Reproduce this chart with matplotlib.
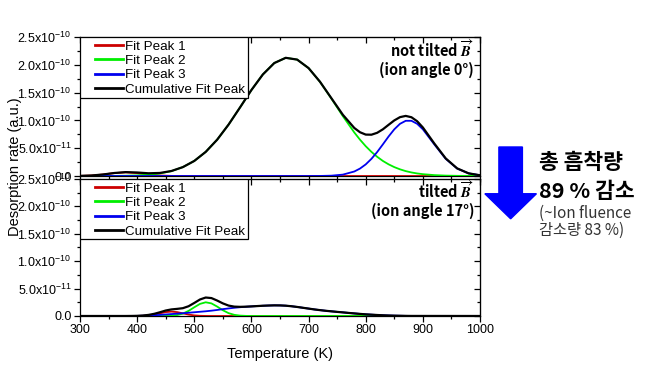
import numpy as np
import matplotlib.pyplot as plt
from matplotlib.ticker import MultipleLocator
from matplotlib.patches import FancyArrow, Rectangle

plt.rcParams['font.family'] = ['Liberation Sans', 'DejaVu Sans']
plt.rcParams['mathtext.fontset'] = 'stix'

# desorption rates in units of 1e-10 (a.u.)
# not tilted B (ion angle 0 deg)
temp_top = [300, 320, 340, 360, 380, 400, 420, 440, 460, 480, 500, 520, 540, 560,
            580, 600, 620, 640, 660, 680, 700, 720, 740, 760, 780,
            790, 800, 810, 820, 830, 840, 850, 860, 870, 880, 890, 900,
            920, 940, 960, 980, 1000]
peak1_top = [0.002, 0.009, 0.027, 0.052, 0.065, 0.052, 0.027, 0.009, 0.002] + [0.0] * 33
peak2_top = [0.0, 0.0, 0.001, 0.002, 0.005, 0.011, 0.023, 0.046, 0.088, 0.160, 0.271, 0.434,
             0.653, 0.925, 1.233, 1.547, 1.827, 2.032, 2.126, 2.094, 1.941, 1.694, 1.392,
             1.076, 0.783,
             0.653, 0.536, 0.434, 0.346, 0.271, 0.210, 0.160, 0.120, 0.088, 0.064, 0.046, 0.033,
             0.016, 0.007, 0.003, 0.001, 0.0]
peak3_top = [0.0] * 21 + [0.001, 0.006, 0.025, 0.081,
             0.134, 0.209, 0.309, 0.431, 0.569, 0.711, 0.840, 0.939, 0.993, 0.993, 0.939, 0.840,
             0.569, 0.309, 0.134, 0.047, 0.013]
cum_top = [0.002, 0.009, 0.027, 0.054, 0.070, 0.063, 0.049, 0.055, 0.090, 0.160, 0.271, 0.434,
           0.653, 0.925, 1.233, 1.547, 1.827, 2.032, 2.126, 2.094, 1.941, 1.695, 1.398,
           1.101, 0.864,
           0.787, 0.745, 0.743, 0.777, 0.840, 0.921, 1.000, 1.059, 1.081, 1.057, 0.985, 0.873,
           0.585, 0.316, 0.137, 0.048, 0.013]

# tilted B (ion angle 17 deg), sampled every 10 K between 380 and 880 K
temp_low = [300] + list(range(380, 890, 10)) + [1000]
peak1_low = [0.0, 0.0, 0.0, 0.001, 0.0035, 0.011, 0.026, 0.0485, 0.071, 0.080, 0.071, 0.0485,
             0.026, 0.011, 0.0035, 0.001] + [0.0] * 37
peak2_low = [0.0] * 8 + [0.001, 0.005, 0.017, 0.044, 0.093, 0.159, 0.221, 0.250, 0.230, 0.172,
                         0.105, 0.052, 0.021, 0.007, 0.002] + [0.0] * 30
peak3_low = [0.0, 0.0, 0.001, 0.002, 0.005, 0.009, 0.014, 0.020, 0.028, 0.035, 0.042, 0.050,
             0.059, 0.068, 0.077, 0.086, 0.097, 0.110, 0.125, 0.138, 0.150, 0.160, 0.168,
             0.175, 0.181, 0.187, 0.191, 0.194, 0.193, 0.188, 0.178, 0.165, 0.150, 0.135,
             0.120, 0.107, 0.095, 0.085, 0.075, 0.066, 0.056, 0.047, 0.038, 0.030, 0.024,
             0.018, 0.013, 0.009, 0.006, 0.004, 0.002, 0.001, 0.0]
cum_low = [0.0, 0.0, 0.001, 0.003, 0.0085, 0.020, 0.040, 0.0685, 0.100, 0.120, 0.130, 0.1425,
           0.178, 0.238, 0.3015, 0.337, 0.327, 0.282, 0.230, 0.190, 0.171, 0.167, 0.170,
           0.175, 0.181, 0.187, 0.191, 0.194, 0.193, 0.188, 0.178, 0.165, 0.150, 0.135,
           0.120, 0.107, 0.095, 0.085, 0.075, 0.066, 0.056, 0.047, 0.038, 0.030, 0.024,
           0.018, 0.013, 0.009, 0.006, 0.004, 0.002, 0.001, 0.0]

y_ticks = [0.0, 0.5, 1.0, 1.5, 2.0, 2.5]
y_tick_labels = ['0.0', r'$\mathregular{5.0x10^{-11}}$', r'$\mathregular{1.0x10^{-10}}$',
                 r'$\mathregular{1.5x10^{-10}}$', r'$\mathregular{2.0x10^{-10}}$',
                 r'$\mathregular{2.5x10^{-10}}$']
x_ticks = [300, 400, 500, 600, 700, 800, 900, 1000]
names = ['Fit Peak 1', 'Fit Peak 2', 'Fit Peak 3', 'Cumulative Fit Peak']
colors = ['#cc0000', '#00ee00', '#0000ee', 'black']

fig = plt.figure(figsize=(6.53, 3.74), dpi=100)
ax_top = fig.add_axes([0.1225, 0.5294, 0.6126, 0.3716])
ax_low = fig.add_axes([0.1225, 0.1551, 0.6126, 0.3663])

vec_b = r'$\overrightarrow{\mathbfit{B}}$'


def draw_panel(ax, temps, series, title_lines):
    for vals, name, c in zip(series, names, colors):
        lw = 1.6 if c == 'black' else 1.3
        ax.plot(temps, vals, color=c, lw=lw, label=name, zorder=4 if c == 'black' else 3)
    ax.set_xlim(300, 1000)
    ax.set_ylim(0, 2.5)
    ax.set_yticks(y_ticks)
    ax.set_yticklabels(y_tick_labels)
    ax.set_xticks(x_ticks)
    ax.xaxis.set_minor_locator(MultipleLocator(50))
    ax.yaxis.set_minor_locator(MultipleLocator(0.25))
    ax.tick_params(which='both', labelsize=9, width=0.9, pad=1.5, direction='out')
    ax.tick_params(which='major', length=4.5)
    ax.tick_params(which='minor', length=2.5)
    for spine in ax.spines.values():
        spine.set_linewidth(0.9)
    # right and top ticks point inwards
    sec = ax.secondary_yaxis('right')
    sec.set_yticks(y_ticks)
    sec.set_yticklabels([])
    sec.yaxis.set_minor_locator(MultipleLocator(0.25))
    sec.tick_params(which='both', direction='in', width=0.9)
    sec.tick_params(which='major', length=4.5)
    sec.tick_params(which='minor', length=2.5)
    secx = ax.secondary_xaxis('top')
    secx.set_xticks(x_ticks)
    secx.set_xticklabels([])
    secx.xaxis.set_minor_locator(MultipleLocator(50))
    secx.tick_params(which='both', direction='in', width=0.9)
    secx.tick_params(which='major', length=4.5)
    secx.tick_params(which='minor', length=2.5)
    # legend with a hand-drawn frame so the handles sit a bit inside the box
    leg = ax.legend(loc='upper left', bbox_to_anchor=(0.028, 1.0), borderaxespad=0,
                    frameon=False, fontsize=9.6, handlelength=2.1, handletextpad=0.15,
                    labelspacing=0.15, borderpad=0.25)
    for line in leg.get_lines():
        line.set_linewidth(2.0)
    ax.add_patch(Rectangle((0.0, 0.56), 0.42, 0.44, transform=ax.transAxes, fill=True,
                           facecolor='white', edgecolor='black', lw=0.9, zorder=5))
    leg.set_zorder(6)
    kr = ['Noto Sans CJK KR', 'DejaVu Sans']
    ax.text(0.985, 0.915, title_lines[0], transform=ax.transAxes, ha='right', va='center',
            fontsize=10.5, fontweight='bold', family=kr)
    ax.text(0.985, 0.765, title_lines[1], transform=ax.transAxes, ha='right',
            va='center', fontsize=10.5, fontweight='bold', family=kr)


draw_panel(ax_top, temp_top, [peak1_top, peak2_top, peak3_top, cum_top],
           ['not tilted ' + vec_b, '(ion angle 0°)'])
draw_panel(ax_low, temp_low, [peak1_low, peak2_low, peak3_low, cum_low],
           ['tilted ' + vec_b, '(ion angle 17°)'])
ax_top.tick_params(axis='x', labelbottom=False)

ax_low.set_xlabel('Temperature (K)', fontsize=10.5, labelpad=8)
fig.text(0.023, 0.553, 'Desorption rate (a.u.)', rotation=90, ha='center', va='center',
         fontsize=10.5)

# big downward arrow and Korean summary
arrow = FancyArrow(0.782, 0.607, 0, -0.192, width=0.036, head_width=0.079,
                   head_length=0.067, length_includes_head=True, color='#0000ff',
                   transform=fig.transFigure)
fig.patches.append(arrow)
kr = ['Noto Sans CJK KR', 'DejaVu Sans']
fig.text(0.826, 0.565, '총 흡착량', fontsize=15.5, fontweight='bold', family=kr,
         va='center', ha='left')
fig.text(0.826, 0.488, '89 % 감소', fontsize=15.5, fontweight='bold', family=kr,
         va='center', ha='left')
fig.text(0.826, 0.430, '(~Ion fluence', fontsize=11, family=kr, color='#333333',
         va='center', ha='left')
fig.text(0.826, 0.383, '감소량 83 %)', fontsize=11, family=kr, color='#333333',
         va='center', ha='left')

fig.savefig('out.png', dpi=100)
